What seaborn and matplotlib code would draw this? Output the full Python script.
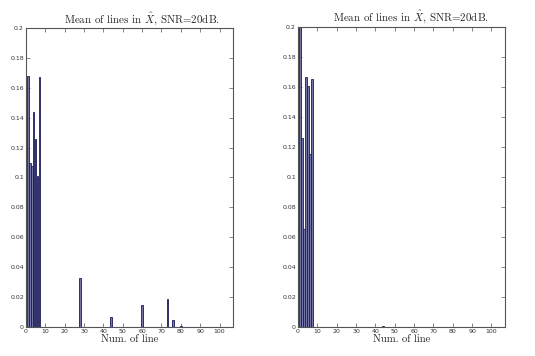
import matplotlib
matplotlib.use("Agg")
import matplotlib.pyplot as plt
import seaborn as sns
import pandas as pd

# ---- data ----
left_lines = [1, 2, 3, 4, 5, 6, 7, 28, 44, 60, 73, 76, 80]
left_means = [0.168, 0.110, 0.108, 0.144, 0.126, 0.101, 0.167,
              0.033, 0.007, 0.0145, 0.019, 0.005, 0.0008]

right_lines = [1, 2, 3, 4, 5, 6, 7, 44]
right_means = [0.200, 0.126, 0.065, 0.1665, 0.1605, 0.115, 0.165, 0.0005]

x_ticks = list(range(0, 101, 10))
y_ticks = [0, 0.02, 0.04, 0.06, 0.08, 0.1, 0.12, 0.14, 0.16, 0.18, 0.2]
y_ticklabels = ["0", "0.02", "0.04", "0.06", "0.08", "0.1", "0.12",
                "0.14", "0.16", "0.18", "0.2"]
title_text = r"Mean of lines in $\hat{X}$, SNR=20dB."
xlabel_text = "Num. of line"

sns.set_theme(style="ticks")
plt.rcParams["font.family"] = ["serif"]
plt.rcParams["font.serif"] = ["cmr10", "DejaVu Serif"]
plt.rcParams["mathtext.fontset"] = "cm"
plt.rcParams["axes.formatter.use_mathtext"] = True

fig = plt.figure(figsize=(5.35, 3.56), dpi=100)
ax_l = fig.add_axes([0.0486, 0.0815, 0.387, 0.84])
ax_r = fig.add_axes([0.557, 0.0815, 0.387, 0.843])

fill = "#7474a6"
edge = "#1a1a5a"

def draw(ax, xs, ys, width, tx):
    df = pd.DataFrame({"line": xs, "mean": ys})
    sns.barplot(data=df, x="line", y="mean", native_scale=True, ax=ax,
                color=fill, edgecolor=edge, linewidth=0.6, width=width,
                saturation=1, errorbar=None)
    ax.set_xlim(0, 107)
    ax.set_ylim(0, 0.2)
    ax.set_xticks(x_ticks)
    ax.set_xticklabels([str(t) for t in x_ticks], family="DejaVu Sans",
                       fontsize=4.5, color="#333333")
    ax.set_yticks(y_ticks)
    ax.set_yticklabels(y_ticklabels, family="DejaVu Sans",
                       fontsize=4.5, color="#333333")
    ax.tick_params(direction="in", top=True, right=True, length=3,
                   width=0.5, color="#555555", pad=1.5)
    for s in ax.spines.values():
        s.set_visible(True)
        s.set_linewidth(0.8)
        s.set_color("#555555")
    ax.set_title(title_text, fontsize=7.9, pad=4, x=tx)
    ax.set_xlabel(xlabel_text, fontsize=7.6, labelpad=0)
    ax.set_ylabel("")

draw(ax_l, left_lines, left_means, 0.75, 0.56)
draw(ax_r, right_lines, right_means, 1.0, 0.545)

fig.savefig("out.png", dpi=100)
